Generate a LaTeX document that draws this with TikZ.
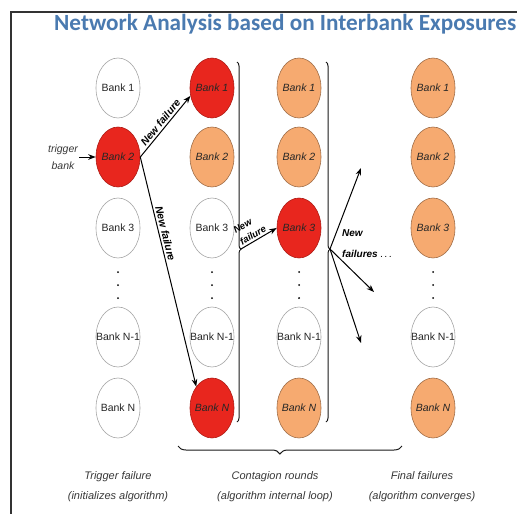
\documentclass[tikz,border=0pt]{standalone}
\usepackage{fontspec}
\setmainfont{Liberation Sans}
\newfontfamily\titlefont{Carlito}
\usetikzlibrary{shapes.geometric, decorations.pathreplacing, arrows.meta}
\definecolor{failred}{RGB}{232,38,30}
\definecolor{failorange}{RGB}{246,170,112}
\definecolor{titleblue}{RGB}{74,122,176}
\definecolor{capgray}{RGB}{55,55,55}

\begin{document}
\begin{tikzpicture}[x=1pt, y=-1pt, >=Stealth,
    bank/.style={ellipse, draw=gray!70, line width=0.6pt, minimum width=44pt, minimum height=60pt, inner sep=0pt, text=black!85, font=\fontsize{10.5}{12}\selectfont},
    sound/.style={bank, fill=white},
    failed/.style={bank, fill=failred, draw=failred!75!black, font=\fontsize{10.5}{12}\selectfont\itshape},
    hit/.style={bank, fill=failorange, draw=failorange!65!black, font=\fontsize{10.5}{12}\selectfont\itshape},
    caption/.style={align=center, text=capgray, font=\fontsize{11}{20}\selectfont\itshape},
    newfail/.style={font=\fontsize{10.5}{12}\selectfont\bfseries\itshape, inner sep=2pt},
    link/.style={->, line width=1pt},
    roundbrace/.style={decorate, decoration={brace, amplitude=4pt, aspect=0.52}, line width=1pt, gray!20!black}]
\useasboundingbox (0,0) rectangle (517,514);
% frame and title
\draw[line width=1.3pt, black!80] (11,514) -- (11,12) -- (517,12);
\node[anchor=west, text=titleblue, font=\titlefont\bfseries\fontsize{23.2}{24}\selectfont, inner sep=0pt] (title) at (54,24) {Network Analysis based on Interbank Exposures};

% the four columns of banks
\foreach \n/\y/\lab/\sty in {1/88/1/sound, 2/157/2/failed, 3/228/3/sound, 4/337/N-1/sound, 5/408/N/sound}
  \node[\sty] (a\n) at (118,\y) {\makebox[0pt]{Bank \lab}};
\foreach \n/\y/\lab/\sty in {1/88/1/failed, 2/157/2/hit, 3/228/3/sound, 4/337/N-1/sound, 5/408/N/failed}
  \node[\sty] (b\n) at (212,\y) {\makebox[0pt]{Bank \lab}};
\foreach \n/\y/\lab/\sty in {1/88/1/hit, 2/157/2/hit, 3/228/3/failed, 4/337/N-1/sound, 5/408/N/hit}
  \node[\sty] (c\n) at (299,\y) {\makebox[0pt]{Bank \lab}};
\foreach \n/\y/\lab/\sty in {1/88/1/hit, 2/157/2/hit, 3/228/3/hit, 4/337/N-1/sound, 5/408/N/hit}
  \node[\sty] (d\n) at (433,\y) {\makebox[0pt]{Bank \lab}};
\foreach \x in {118,212,299,433}
  \foreach \y in {272,285,298}
    \fill (\x,\y) circle (1pt);

% trigger
\node[align=center, font=\fontsize{10.5}{17}\selectfont\itshape, text=capgray, inner sep=1pt] (trig) at (63,157) {trigger\\bank};
\draw[link] (trig.east) -- (a2.west);
\draw[link] (a2.east) -- (b1.200) node[newfail, midway, above, sloped] {New failure};
\draw[link] (a2.east) -- (b5.north west) node[newfail, pos=0.34, above, sloped] {New failure};

% contagion rounds
\draw[roundbrace] (237,62) -- (237,422);
\draw[roundbrace] (326,62) -- (326,422);
\coordinate (tip1) at (241,249);
\coordinate (tip2) at (330,249);
\draw[link] (tip1) -- (c3.west) node[newfail, pos=0.42, above, sloped, align=left, font=\fontsize{9.5}{13}\selectfont\bfseries\itshape] {New\\failure};
\coordinate (out1) at (361,168);
\coordinate (out2) at (374,292);
\coordinate (out3) at (361,343);
\foreach \o in {out1,out2,out3}
  \draw[link] (tip2) -- (\o);
\node[newfail, anchor=west, align=left, font=\fontsize{10}{21}\selectfont\bfseries\itshape] (more) at (340,244) {New\\failures {\mdseries .\,.\,.}};

% captions
\draw[decorate, decoration={brace, amplitude=8pt, aspect=0.545}, line width=1pt, gray!20!black] (402,446) -- (178,446);
\node[caption] (cap1) at (118,487) {Trigger failure\\(initializes algorithm)};
\node[caption] (cap2) at (275,487) {Contagion rounds\\(algorithm internal loop)};
\node[caption] (cap3) at (422,487) {Final failures\\(algorithm converges)};
\end{tikzpicture}
\end{document}
